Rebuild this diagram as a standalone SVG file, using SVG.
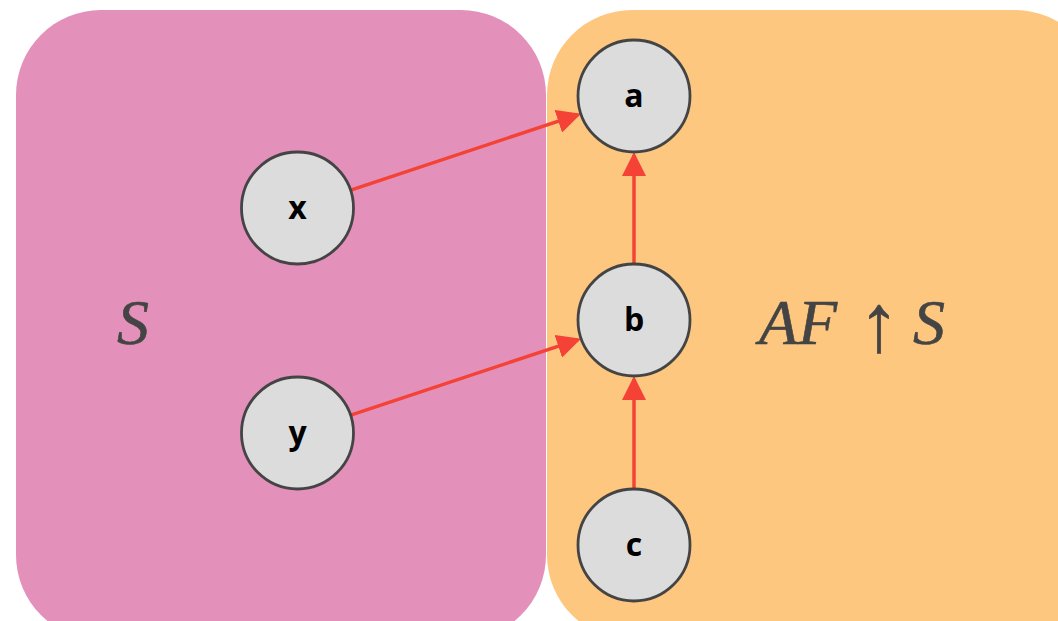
<svg xmlns="http://www.w3.org/2000/svg" width="1058" height="621" viewBox="0 0 1058 621">
<style>
.node circle{fill:#dcdcdc;stroke:#444;stroke-width:2.8}
.node text{font-family:"Open Sans","Noto Sans",sans-serif;font-weight:700;font-size:32px;fill:#000;text-anchor:middle}
.edge{stroke:#f44336;stroke-width:3.5;fill:none;marker-end:url(#ah)}
.set{font-family:"Liberation Serif","DejaVu Serif",serif;font-style:italic;font-size:64px;fill:#444;stroke:#444;stroke-width:0.6}
</style>
<defs>
<marker id="ah" markerUnits="userSpaceOnUse" markerWidth="24" markerHeight="24" refX="21" refY="12" orient="auto" viewBox="0 0 24 24">
<path d="M0,0 L24,12 L0,24 z" fill="#f44336"/>
</marker>
</defs>
<rect width="1058" height="621" fill="#fff"/>
<g id="regionS">
<rect x="16" y="10" width="530" height="630" rx="85" ry="85" fill="#e391ba"/>
<text class="set" x="133" y="344" text-anchor="middle">S</text>
</g>
<g id="regionAF">
<rect x="547" y="10" width="553" height="630" rx="85" ry="85" fill="#fdc780"/>
<text class="set" y="344"><tspan x="759">AF</tspan><tspan x="879" dy="7" text-anchor="middle" font-style="normal" font-size="82">↑</tspan><tspan x="913" dy="-7">S</tspan></text>
</g>
<g id="connectors">
<line class="edge" x1="350" y1="190.3" x2="578.2" y2="114.6"/>
<line class="edge" x1="350" y1="415.3" x2="578.2" y2="339.6"/>
<line class="edge" x1="634" y1="264" x2="634" y2="155"/>
<line class="edge" x1="634" y1="489" x2="634" y2="379"/>
</g>
<g id="node-a" class="node"><circle cx="634" cy="96" r="56"/><text x="634" y="107">a</text></g>
<g id="node-x" class="node"><circle cx="297.5" cy="208" r="56"/><text x="297.5" y="219">x</text></g>
<g id="node-b" class="node"><circle cx="634" cy="320" r="56"/><text x="634" y="331">b</text></g>
<g id="node-y" class="node"><circle cx="297.5" cy="433" r="56"/><text x="297.5" y="444">y</text></g>
<g id="node-c" class="node"><circle cx="634" cy="545" r="56"/><text x="634" y="556">c</text></g>
</svg>
